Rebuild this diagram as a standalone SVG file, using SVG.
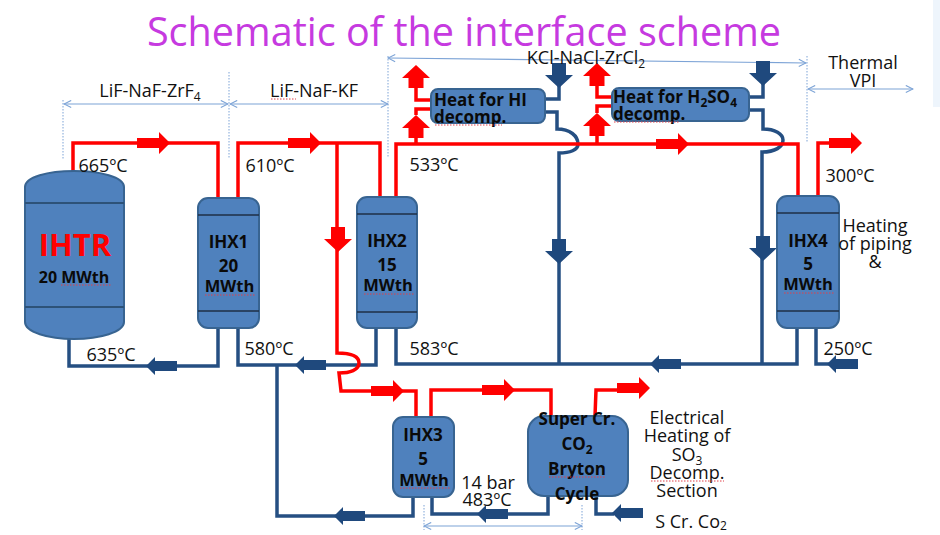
<svg xmlns="http://www.w3.org/2000/svg" width="940" height="535" viewBox="0 0 940 535">
<style>
text{font-family:"Open Sans","Liberation Sans",sans-serif;fill:#111;text-anchor:middle}
.l{font-size:18px}
.m{font-size:16px;font-weight:700;fill:#0a0a0a}
.w{font-size:16.500px;font-weight:700;fill:#0a0a0a}
.b{font-size:17px;font-weight:700;fill:#0a0a0a}
.h{font-size:17px;font-weight:700;fill:#0a0a0a;text-anchor:start}
.eq{fill:#4f81bd;stroke:#386491;stroke-width:2}
.in{stroke:#2d5278;stroke-width:2;fill:none}
.in2{stroke:#1f2f45;stroke-width:1.500;fill:none}
.red{fill:none;stroke:#ff0000;stroke-width:3.500}
.blue{fill:none;stroke:#254f82;stroke-width:3.500}
.rf{fill:#ff0000}
.bf{fill:#1f497d}
.dim{fill:none;stroke:#7ca3d6;stroke-width:1.200}
.dot{fill:none;stroke:#7ca3d6;stroke-width:1;stroke-dasharray:1.500 1.500}
.sq{fill:none;stroke:#e0404a;stroke-width:1;stroke-dasharray:1.500 1.500}
</style>
<defs>
<marker id="da" viewBox="0 0 10 10" refX="9" refY="5" markerWidth="9" markerHeight="9" markerUnits="userSpaceOnUse" orient="auto-start-reverse"><path d="M1 1L9 5L1 9" fill="none" stroke="#7ca3d6" stroke-width="1.200"/></marker>
<path id="rr" d="M-33 -5H-11V-11L0 0L-11 11V5H-33Z"/>
<path id="ll" d="M31 -5H9V-9L0 0L9 9V5H31Z"/>
<path id="ud" d="M-7 -12H7V0H14L0 13L-14 0H-7Z"/>
<path id="uu" d="M-7.500 23H7.500V13H14L0 0L-14 13H-7.500Z"/>
</defs>
<rect x="933" y="0" width="7" height="107" fill="#eef5fc"/>
<text id="title" x="464" y="46" font-size="39.600" style="fill:#c63ae0">Schematic of the interface scheme</text>

<g id="connectors">
<g class="dims">
<path class="dot" d="M63 100V159M229 72V159M388 56V158M807 56V143M424 505V530M582 505V530"/>
<path class="dim" marker-start="url(#da)" marker-end="url(#da)" d="M64 104H228"/>
<path class="dim" marker-start="url(#da)" marker-end="url(#da)" d="M230 104H388"/>
<path class="dim" marker-start="url(#da)" marker-end="url(#da)" d="M388 58L806 63"/>
<path class="dim" marker-start="url(#da)" marker-end="url(#da)" d="M808 89H913"/>
<path class="dim" marker-start="url(#da)" marker-end="url(#da)" d="M424 526H582"/>
</g>
<path class="blue" d="M69 339V366H218V328"/>
<path class="blue" d="M238 328V365H376V328"/>
<path class="blue" d="M277 365V516H413V497"/>
<path class="blue" d="M432 497V514H548V496"/>
<path class="blue" d="M596 496V514H614"/>
<path class="blue" d="M396 328V364H797V328"/>
<path class="blue" d="M816 328V364H830"/>
<path class="blue" d="M559 78V99H545M545 112H557V129C570 129 578 136 578 144C578 150 570 153 559 153V364"/>
<path class="blue" d="M763 75V97H749M749 110H763V129C775 129 783 134 783 140C783 147 775 152 762 152V364"/>
<path class="red" d="M73 171V143H218V198"/>
<path class="red" d="M238 198V143H380V197"/>
<path class="red" d="M337 143V353C350 353 359 356 359 363C359 370 350 373 339 373L341 391H416V417"/>
<path class="red" d="M431 417V390H551V416"/>
<path class="red" d="M595 416L596 390H620"/>
<path class="red" d="M396 197V144H798V196"/>
<path class="red" d="M818 196V143H835"/>
<path class="red" d="M416 144V125M416 115V109H431M431 100H416V85"/>
<path class="red" d="M597 144V125M597 113V106H612M612 97H597V83"/>
<g class="rf">
<use href="#rr" x="170" y="143"/><use href="#rr" x="321" y="143"/><use href="#rr" x="689" y="144"/><use href="#rr" x="862" y="143"/><use href="#rr" x="404" y="391"/><use href="#rr" x="515" y="390"/><use href="#rr" x="650" y="388"/>
<use href="#ud" x="338" y="239"/>
<use href="#uu" x="416" y="65"/><use href="#uu" x="416" y="115"/><use href="#uu" x="597" y="63"/><use href="#uu" x="597" y="113"/>
</g>
<g class="bf">
<use href="#ll" x="146" y="366"/><use href="#ll" x="295" y="365"/><use href="#ll" x="650" y="364"/><use href="#ll" x="827" y="364"/><use href="#ll" x="334" y="516"/><use href="#ll" x="477" y="514"/><use href="#ll" x="612" y="513"/>
<use href="#ud" x="559" y="251"/><use href="#ud" x="763" y="248"/><use href="#ud" x="559" y="75"/><use href="#ud" x="763" y="73"/>
</g>
</g>

<g id="IHTR">
<path class="eq" d="M25 187C25 177 48 171 74 171C100 171 124 177 124 187V322C124 332 100 339 74 339C48 339 25 332 25 322Z"/>
<path class="in" d="M25 203H124M25 307H124"/>
<text x="75" y="256" font-size="31" font-weight="700" style="fill:#ff0000">IHTR</text>
<text class="m" x="74" y="283">20 MWth</text>
<path class="sq" d="M61 285H112"/>
</g>
<g id="IHX1">
<rect class="eq" x="198" y="198" width="61" height="130" rx="10"/>
<path class="in2" d="M198 215H259M198 311H259"/>
<text class="b" x="228.500" y="248">IHX1</text>
<text class="b" x="228.500" y="272">20</text>
<text class="w" x="229.500" y="292">MWth</text>
<path class="sq" d="M205 295H255"/>
</g>
<g id="IHX2">
<rect class="eq" x="357" y="197" width="60" height="131" rx="10"/>
<path class="in2" d="M357 214H417M357 312H417"/>
<text class="b" x="387" y="247">IHX2</text>
<text class="b" x="387" y="271">15</text>
<text class="w" x="388" y="291">MWth</text>
<path class="sq" d="M364 294H414"/>
</g>
<g id="IHX3">
<rect class="eq" x="393" y="417" width="61" height="80" rx="10"/>
<text class="b" x="423" y="441">IHX3</text>
<text class="b" x="423" y="465">5</text>
<text class="w" x="424" y="486">MWth</text>
<path class="sq" d="M400 488H450"/>
</g>
<g id="IHX4">
<rect class="eq" x="777" y="196" width="62" height="132" rx="10"/>
<path class="in2" d="M777 213H839M777 311H839"/>
<text class="b" x="808" y="247">IHX4</text>
<text class="b" x="808" y="270">5</text>
<text class="w" x="808" y="290">MWth</text>
<path class="sq" d="M784 293H835"/>
</g>
<g id="HI">
<rect class="eq" x="431" y="89" width="114" height="34" rx="7"/>
<text class="h" x="434" y="106">Heat for HI</text>
<text class="h" x="434" y="123">decomp.</text>
<path class="sq" d="M435 125H502"/>
</g>
<g id="H2SO4">
<rect class="eq" x="612" y="88" width="137" height="33" rx="7"/>
<text class="h" x="613" y="103">Heat for H<tspan font-size="12" dy="4">2</tspan><tspan dy="-4">SO</tspan><tspan font-size="12" dy="4">4</tspan></text>
<text class="h" x="613" y="120">decomp.</text>
<path class="sq" d="M614 122H680"/>
</g>
<g id="SCO2">
<rect class="eq" x="528" y="416" width="100" height="80" rx="16"/>
<text class="b" x="577" y="425">Super Cr.</text>
<text class="b" x="577" y="450">CO<tspan font-size="12" dy="4">2</tspan></text>
<text class="b" x="577" y="475">Bryton</text>
<text class="b" x="577" y="500">Cycle</text>
<path class="sq" d="M549 477H606"/>
</g>

<g id="labels">
<text class="l" x="150" y="97">LiF-NaF-ZrF<tspan font-size="12" dy="4">4</tspan></text>
<text class="l" x="314" y="97">LiF-NaF-KF</text>
<path class="sq" d="M271 99H296"/>
<text class="l" x="586" y="64">KCl-NaCl-ZrCl<tspan font-size="12" dy="4">2</tspan></text>
<text class="l" x="863" y="69">Thermal</text>
<text class="l" x="863" y="87">VPI</text>
<text class="l" x="103" y="172">665ºC</text>
<text class="l" x="270" y="172">610ºC</text>
<text class="l" x="434" y="171">533ºC</text>
<text class="l" x="850" y="182">300ºC</text>
<text class="l" x="111" y="361">635ºC</text>
<text class="l" x="269" y="355">580ºC</text>
<text class="l" x="434" y="355">583ºC</text>
<text class="l" x="848" y="355">250ºC</text>
<text class="l" x="875" y="232">Heating</text>
<text class="l" x="875" y="250">of piping</text>
<text class="l" x="875" y="268">&amp;</text>
<text class="l" x="488" y="489">14 bar</text>
<text class="l" x="487" y="506">483ºC</text>
<text class="l" x="687" y="424">Electrical</text>
<text class="l" x="687" y="442">Heating of</text>
<text class="l" x="687" y="461">SO<tspan font-size="12" dy="4">3</tspan></text>
<text class="l" x="687" y="479">Decomp.</text>
<text class="l" x="687" y="497">Section</text>
<path class="sq" d="M651 481H724"/>
<text class="l" x="691" y="528">S Cr. Co<tspan font-size="12" dy="2">2</tspan></text>
</g>
</svg>
